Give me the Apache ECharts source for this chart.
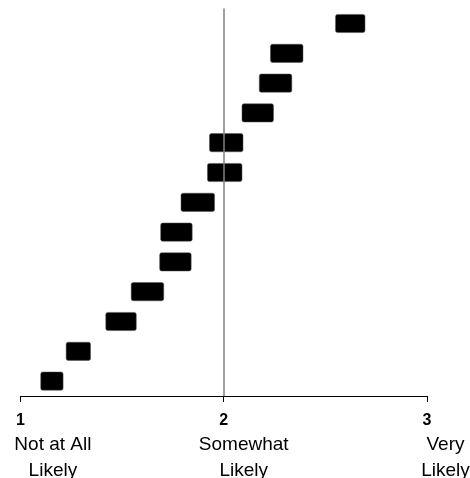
<!DOCTYPE html>
<html>
<head>
<meta charset="utf-8">
<script src="https://cdn.jsdelivr.net/npm/echarts@6/dist/echarts.min.js"></script>
<style>html,body{margin:0;padding:0;background:#fff}#c{width:470px;height:478px}</style>
</head>
<body>
<div id="c"></div>
<script>
// Items, top to bottom
var items = ['Item 1','Item 2','Item 3','Item 4','Item 5','Item 6','Item 7','Item 8','Item 9','Item 10','Item 11','Item 12','Item 13'];
var lows  = [2.55, 2.23, 2.175, 2.09, 1.93, 1.92, 1.79, 1.69, 1.685, 1.545, 1.42, 1.225, 1.10];
var highs = [2.695, 2.39, 2.335, 2.245, 2.095, 2.09, 1.955, 1.845, 1.84, 1.705, 1.57, 1.345, 1.21];
var tickValues = [1, 2, 3];
var tickNumbers = ['1', '2', '3'];
var tickLine1 = ['Not at All', 'Somewhat', 'Very'];
var tickLine2 = ['Likely', 'Likely', 'Likely'];
var refValue = 2;

var data = items.map(function (n, i) { return [lows[i], highs[i], n]; });

var FONT = 'Liberation Sans, Arial, sans-serif';
var rich = {
  num: { fontSize: 16, fontWeight: 'bold', lineHeight: 22, color: '#000', fontFamily: FONT }
};
var pads = [65, 40, 37];
tickValues.forEach(function (v, i) {
  rich['t' + i] = { fontSize: 19, lineHeight: 26, color: '#000', padding: [0, 0, 0, pads[i]], fontFamily: FONT };
});

var chart = echarts.init(document.getElementById('c'));
chart.setOption({
  animation: false,
  backgroundColor: '#fff',
  grid: { left: 20.4, right: 43, top: 8.6, bottom: 82, containLabel: false, outerBoundsMode: 'none' },
  xAxis: {
    type: 'value', min: 1, max: 3, interval: 1,
    axisLine: { show: true, lineStyle: { color: '#000', width: 1 } },
    axisTick: { show: true, length: 6, lineStyle: { color: '#000' } },
    splitLine: { show: false },
    axisLabel: {
      margin: 14,
      showMinLabel: true, showMaxLabel: true,
      rich: rich,
      formatter: function (v) {
        var i = tickValues.indexOf(v);
        if (i < 0) return '';
        return '{num|' + tickNumbers[i] + '}\n{t' + i + '|' + tickLine1[i] + '}\n{t' + i + '|' + tickLine2[i] + '}';
      }
    }
  },
  yAxis: {
    type: 'category', data: items, inverse: true,
    axisLine: { show: false }, axisTick: { show: false }, axisLabel: { show: false }, splitLine: { show: false }
  },
  series: [{
    type: 'custom',
    dimensions: ['low', 'high', 'item'],
    encode: { x: ['low', 'high'], y: 'item' },
    data: data,
    renderItem: function (params, api) {
      var p0 = api.coord([api.value(0), api.value(2)]);
      var p1 = api.coord([api.value(1), api.value(2)]);
      var h = api.size([0, 1])[1] * 0.61;
      return {
        type: 'rect',
        shape: { x: p0[0], y: p0[1] - h / 2, width: p1[0] - p0[0], height: h, r: 2 },
        style: { fill: '#000', stroke: '#555', lineWidth: 0.5 }
      };
    },
    z: 3
  }, {
    type: 'line',
    data: [],
    symbol: 'none',
    markLine: {
      silent: true, symbol: 'none', label: { show: false },
      lineStyle: { color: '#808080', width: 1.5, type: 'solid' },
      data: [{ xAxis: refValue }]
    },
    z: 2
  }]
});
</script>
</body>
</html>
